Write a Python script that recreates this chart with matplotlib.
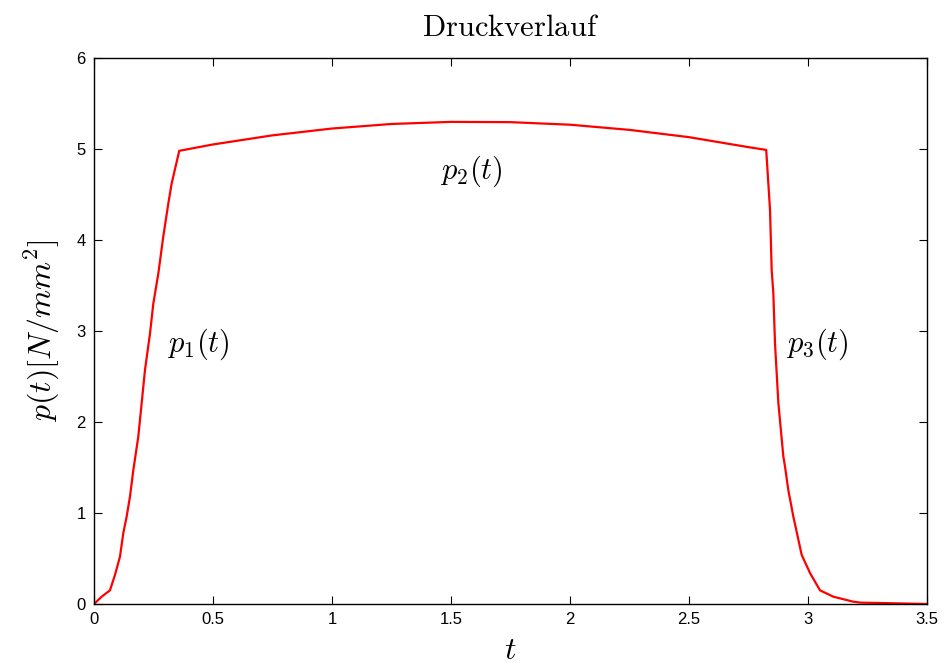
import matplotlib
matplotlib.use('Agg')
import matplotlib.pyplot as plt

plt.rcParams['mathtext.fontset'] = 'cm'
plt.rcParams['font.family'] = ['Liberation Sans', 'DejaVu Sans']

# Druckverlauf p(t)
t_rise = [0.0, 0.032, 0.067, 0.088, 0.109, 0.123, 0.137, 0.151, 0.165, 0.186, 0.214,
          0.235, 0.249, 0.270, 0.291, 0.312, 0.326, 0.358]
p_rise = [0.0, 0.08, 0.15, 0.32, 0.52, 0.78, 0.96, 1.18, 1.47, 1.84, 2.57,
          2.97, 3.30, 3.63, 4.04, 4.40, 4.62, 4.98]

t_top = [0.5, 0.75, 1.0, 1.25, 1.5, 1.75, 2.0, 2.25, 2.5, 2.75, 2.824]
p_top = [5.05, 5.15, 5.225, 5.275, 5.298, 5.295, 5.267, 5.21, 5.13, 5.02, 4.99]

t_fall = [2.840, 2.847, 2.854, 2.861, 2.875, 2.896, 2.903, 2.917, 2.938, 2.973, 3.008, 3.050, 3.106, 3.19, 3.22, 3.5]
p_fall = [4.33, 3.67, 3.41, 2.86, 2.21, 1.62, 1.51, 1.25, 0.96, 0.54, 0.34, 0.15, 0.08, 0.025, 0.015, 0.0]

t = t_rise + t_top + t_fall
p = p_rise + p_top + p_fall

fig = plt.figure(figsize=(9.47, 6.69), dpi=100)
ax = fig.add_axes([0.0993, 0.0972, 0.8797, 0.8161])

ax.plot(t, p, color='red', linewidth=1.6)

ax.set_xlim(0, 3.5)
ax.set_ylim(0, 6)
ax.set_xticks([0, 0.5, 1, 1.5, 2, 2.5, 3, 3.5])
ax.set_xticklabels(['0', '0.5', '1', '1.5', '2', '2.5', '3', '3.5'])
ax.set_yticks([0, 1, 2, 3, 4, 5, 6])
ax.tick_params(direction='in', top=True, right=True, length=6, width=0.8, labelsize=12, pad=6)
for s in ax.spines.values():
    s.set_linewidth(1.0)

ax.set_title(r'$\mathrm{Druckverlauf}$', fontsize=22, pad=16)
ax.set_xlabel(r'$t$', fontsize=23, labelpad=6)
ax.set_ylabel(r'$p(t)[N/mm^2]$', fontsize=23, labelpad=10)

ax.text(0.437, 2.85, r'$p_1(t)$', fontsize=22, ha='center', va='center')
ax.text(1.584, 4.75, r'$p_2(t)$', fontsize=22, ha='center', va='center')
ax.text(3.04, 2.85, r'$p_3(t)$', fontsize=22, ha='center', va='center')

plt.savefig('out.png', dpi=100)
